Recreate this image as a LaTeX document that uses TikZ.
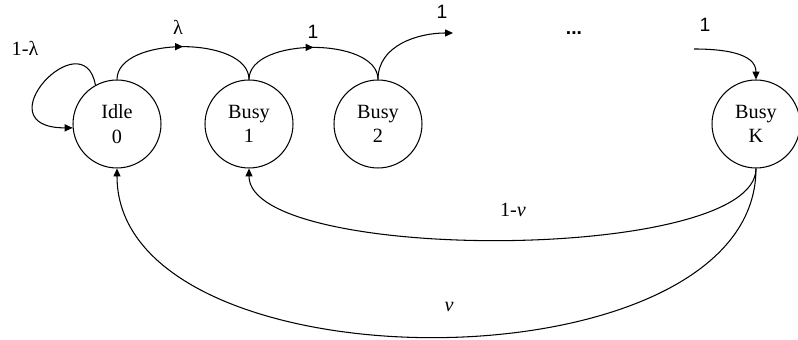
\documentclass[tikz,border=0pt]{standalone}
\usepackage{fontspec}
\setmainfont{Liberation Serif}
\newfontfamily\labelsans{Liberation Sans}
\usetikzlibrary{arrows.meta,decorations.markings}
\tikzstyle{state}=[circle, draw, line width=0.6pt, minimum size=1.76cm, inner sep=0pt, align=center, font=\fontsize{11.5}{14}\selectfont]
\tikzstyle{trans}=[line width=0.6pt]
\tikzstyle{arr}=[-{Triangle[length=4.5pt,width=4pt]}]
\tikzstyle{midarr}=[postaction={decorate}, decoration={markings, mark=at position 0.5 with {\arrow{Triangle[length=4.5pt,width=4pt]}}}]
\tikzstyle{serifprob}=[font=\fontsize{11.5}{14}\selectfont]
\tikzstyle{sansprob}=[font=\labelsans\fontsize{11}{13}\selectfont]

\begin{document}
\begin{tikzpicture}[x=0.02cm, y=0.02cm]
				\useasboundingbox (0,0) rectangle (798,340);
				\node[state] (idle) at (117,216) {Idle\\0};
				\node[state] (busy1) at (249,216) {Busy\\1};
				\node[state] (busy2) at (378,216) {Busy\\2};
				\node[state] (busyK) at (756,216) {Busy\\K};
				\coordinate (out2) at (453,307);
				\coordinate (inK) at (694,291);
				\draw[trans, arr] (idle.119) .. controls +(-12,66) and +(-92,0) .. (idle.185);
				\draw[trans, midarr] (idle.north) to[out=90, in=90, looseness=0.85] (busy1.north);
				\draw[trans, midarr] (busy1.north) to[out=90, in=90, looseness=0.85] (busy2.north);
				\draw[trans, arr] (busy2.north) to[out=90, in=180] (out2);
				\draw[trans, arr] (inK) to[out=0, in=90] (busyK.north);
				\draw[trans, arr] (busyK.south) to[out=-90, in=-90, looseness=0.48] (busy1.south);
				\draw[trans, arr] (busyK.south) to[out=-90, in=-90, looseness=0.9] (idle.south);
				\node[serifprob] (loop) at (25,292) {1-λ};
				\node[serifprob] (lam) at (178,313) {λ};
				\node[sansprob] (one1) at (313,308) {1};
				\node[sansprob] (one2) at (442,328) {1};
				\node[sansprob] (dots) at (574,307) {\textbf{...}};
				\node[sansprob] (oneK) at (705,315) {1};
				\node[serifprob] (back1) at (513,130) {1-\textit{v}};
				\node[serifprob] (back0) at (449,33) {\textit{v}};
\end{tikzpicture}
\end{document}
